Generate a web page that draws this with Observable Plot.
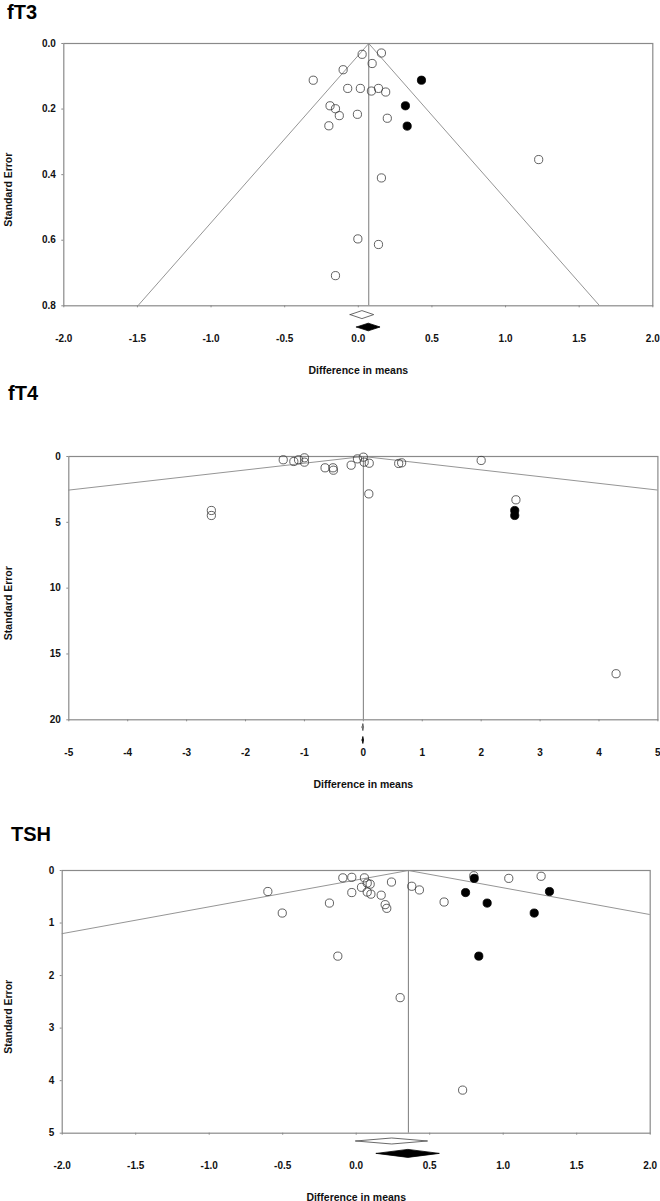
<!DOCTYPE html>
<html>
<head>
<meta charset="utf-8">
<script src="https://cdn.jsdelivr.net/npm/d3@7"></script>
<script src="https://cdn.jsdelivr.net/npm/@observablehq/plot@0.6"></script>
<style>
  html, body { margin: 0; padding: 0; background: #fff; }
  body { width: 660px; height: 1201px; overflow: hidden; position: relative;
         font-family: "Liberation Sans", Arial, sans-serif; }
  .title { position: absolute; font-weight: bold; font-size: 20px; line-height: 20px; color: #000; white-space: nowrap; }
  .panel { position: absolute; left: 0; }
  .panel svg { overflow: visible; }
</style>
</head>
<body>
<script>
// ---------------- DATA ----------------
// fT3
const ft3Diff = [0.026, 0.157, 0.094, -0.103, -0.306, -0.072, 0.014, 0.089, 0.137, 0.186, -0.192, -0.155, -0.129, -0.006, 0.197, -0.200, 1.225, 0.157, -0.003, 0.137, -0.155];
const ft3SE   = [0.033, 0.029, 0.061, 0.080, 0.112, 0.137, 0.137, 0.145, 0.137, 0.148, 0.190, 0.199, 0.220, 0.216, 0.228, 0.251, 0.354, 0.410, 0.596, 0.613, 0.708];
const ft3ImpDiff = [0.429, 0.320, 0.332];
const ft3ImpSE   = [0.112, 0.190, 0.252];
const ft3Observed = [0.028, -0.052, 0.108];   // estimate, lower, upper
const ft3Adjusted = [0.071, -0.009, 0.151];
const ft3XTicks = [-2.0, -1.5, -1.0, -0.5, 0.0, 0.5, 1.0, 1.5, 2.0];
const ft3YTicks = [0.0, 0.2, 0.4, 0.6, 0.8];

// fT4
const ft4Diff = [-1.36, -1.18, -1.10, -1.00, -1.00, -0.65, -0.515, -0.508, -0.207, -0.10, 0.0, 0.014, 0.10, 0.60, 0.65, 2.0, 0.093, -2.58, -2.58, 2.59, 4.29];
const ft4SE   = [0.25, 0.38, 0.25, 0.10, 0.43, 0.86, 0.86, 1.04, 0.66, 0.18, 0.05, 0.43, 0.51, 0.53, 0.48, 0.30, 2.84, 4.10, 4.48, 3.29, 16.5];
const ft4ImpDiff = [2.57, 2.57];
const ft4ImpSE   = [4.10, 4.48];
const ft4Observed = [0.0, -0.012, 0.012];
const ft4Adjusted = [0.0, -0.012, 0.012];
const ft4XTicks = [-5, -4, -3, -2, -1, 0, 1, 2, 3, 4, 5];
const ft4YTicks = [0, 5, 10, 15, 20];

// TSH
const tshDiff = [-0.601, -0.503, -0.182, -0.091, -0.030, -0.030, 0.056, 0.036, 0.075, 0.095, 0.075, 0.10, 0.170, 0.240, 0.197, 0.208, 0.378, 0.430, 0.598, 0.80, 1.038, 1.258, -0.125, 0.299, 0.724];
const tshSE   = [0.40, 0.81, 0.62, 0.14, 0.13, 0.42, 0.14, 0.32, 0.24, 0.26, 0.41, 0.45, 0.47, 0.22, 0.65, 0.72, 0.30, 0.37, 0.60, 0.10, 0.15, 0.11, 1.63, 2.42, 4.18];
const tshImpDiff = [0.803, 0.744, 0.891, 1.315, 1.211, 0.834];
const tshImpSE   = [0.15, 0.42, 0.62, 0.40, 0.81, 1.63];
const tshObserved = [0.245, 0.0, 0.489];
const tshAdjusted = [0.355, 0.140, 0.569];
const tshXTicks = [-2.0, -1.5, -1.0, -0.5, 0.0, 0.5, 1.0, 1.5, 2.0];
const tshYTicks = [0, 1, 2, 3, 4, 5];

const titles = ["fT3", "fT4", "TSH"];
const xLabel = "Difference in means";
const yLabel = "Standard Error";

// ---------------- LAYOUT (style only) ----------------
const fixed1 = d => d.toFixed(1);
const plain = d => String(d);
const layouts = [
  { L: 63.3, R: 652.3, T: 42.7, B: 305.0, titleTop: 2,   titleLeft: 7,
    openOff: 9.3, openH: 4, fillOff: 21.7, fillH: 3.8, xFmt: fixed1, yFmt: fixed1 },
  { L: 68.3, R: 657.4, T: 456.0, B: 719.3, titleTop: 383, titleLeft: 8,
    openOff: 7.8, openH: 3.5, fillOff: 20.7, fillH: 3.5, xFmt: plain, yFmt: plain },
  { L: 61.7, R: 649.7, T: 870.0, B: 1132.7, titleTop: 824, titleLeft: 11,
    openOff: 8.3, openH: 3, fillOff: 20.7, fillH: 4, xFmt: fixed1, yFmt: plain }
];

const datasets = [
  { diff: ft3Diff, se: ft3SE, impDiff: ft3ImpDiff, impSE: ft3ImpSE, obs: ft3Observed, adj: ft3Adjusted, xt: ft3XTicks, yt: ft3YTicks },
  { diff: ft4Diff, se: ft4SE, impDiff: ft4ImpDiff, impSE: ft4ImpSE, obs: ft4Observed, adj: ft4Adjusted, xt: ft4XTicks, yt: ft4YTicks },
  { diff: tshDiff, se: tshSE, impDiff: tshImpDiff, impSE: tshImpSE, obs: tshObserved, adj: tshAdjusted, xt: tshXTicks, yt: tshYTicks }
];

const FONT = "'Liberation Sans', Arial, Helvetica, sans-serif";
const GRAY = "#8a8a8a";

datasets.forEach((ds, i) => {
  const lay = layouts[i];
  const frameH = lay.B - lay.T;
  const mt = 10, mb = 80;
  const xMin = ds.xt[0], xMax = ds.xt[ds.xt.length - 1];
  const yMax = ds.yt[ds.yt.length - 1];
  const k = yMax / frameH; // data units per pixel (vertical)
  const c = ds.adj[0];

  const points = ds.diff.map((d, j) => ({ x: d, y: ds.se[j] }));
  const imputed = ds.impDiff.map((d, j) => ({ x: d, y: ds.impSE[j] }));
  const funnel = [
    { x: c - 1.96 * yMax, y: yMax },
    { x: c, y: 0 },
    { x: c + 1.96 * yMax, y: yMax }
  ];
  const diamond = (est, off, h) => [
    { x: est[1], y1: yMax + off * k, y2: yMax + off * k },
    { x: est[0], y1: yMax + (off - h) * k, y2: yMax + (off + h) * k },
    { x: est[2], y1: yMax + off * k, y2: yMax + off * k }
  ];

  const chart = Plot.plot({
    width: 660,
    height: frameH + mt + mb,
    marginLeft: lay.L,
    marginRight: 660 - lay.R,
    marginTop: mt,
    marginBottom: mb,
    x: { domain: [xMin, xMax] },
    y: { domain: [0, yMax], reverse: true },
    style: { fontFamily: FONT, fontSize: "10px", fontWeight: "bold", background: "transparent", overflow: "visible" },
    marks: [
      Plot.line(funnel, { x: "x", y: "y", stroke: "#7a7a7a", strokeWidth: 0.8, clip: true }),
      Plot.ruleX([c], { stroke: "#7a7a7a", strokeWidth: 1 }),
      Plot.frame({ stroke: GRAY, strokeWidth: 1.2 }),
      Plot.axisX(ds.xt, { tickSize: 2, tickPadding: 27, tickFormat: lay.xFmt, stroke: GRAY, fill: "#111", fontWeight: "bold", fontSize: 10, label: null }),
      Plot.axisY(ds.yt, { tickSize: 2, tickPadding: 6, tickFormat: lay.yFmt, stroke: GRAY, fill: "#111", fontWeight: "bold", fontSize: 10, label: null }),
      Plot.dot(points, { x: "x", y: "y", r: 4.1, stroke: "#3a3a3a", strokeWidth: 0.8, fill: "none" }),
      Plot.dot(imputed, { x: "x", y: "y", r: 4.1, stroke: "#000", strokeWidth: 0.8, fill: "#000" }),
      Plot.areaY(diamond(ds.obs, lay.openOff, lay.openH), { x: "x", y1: "y1", y2: "y2", fill: "white", stroke: "#444", strokeWidth: 0.8 }),
      Plot.areaY(diamond(ds.adj, lay.fillOff, lay.fillH), { x: "x", y1: "y1", y2: "y2", fill: "#000", stroke: "#000", strokeWidth: 0.8 }),
      Plot.text([xLabel], { text: d => d, frameAnchor: "bottom", lineAnchor: "middle", textAnchor: "middle", dy: 64.5, fontSize: 10.5, fontWeight: "bold", fill: "#111" }),
      Plot.text([yLabel], { text: d => d, frameAnchor: "left", rotate: -90, textAnchor: "middle", lineAnchor: "middle", dx: -(lay.L - 8.5), dy: 15, fontSize: 10.5, fontWeight: "bold", fill: "#111" })
    ]
  });

  const wrap = document.createElement("div");
  wrap.className = "panel";
  wrap.style.top = (lay.T - mt) + "px";
  wrap.appendChild(chart);
  document.body.appendChild(wrap);

  const t = document.createElement("div");
  t.className = "title";
  t.textContent = titles[i];
  t.style.top = lay.titleTop + "px";
  t.style.left = lay.titleLeft + "px";
  document.body.appendChild(t);
});
</script>
</body>
</html>
